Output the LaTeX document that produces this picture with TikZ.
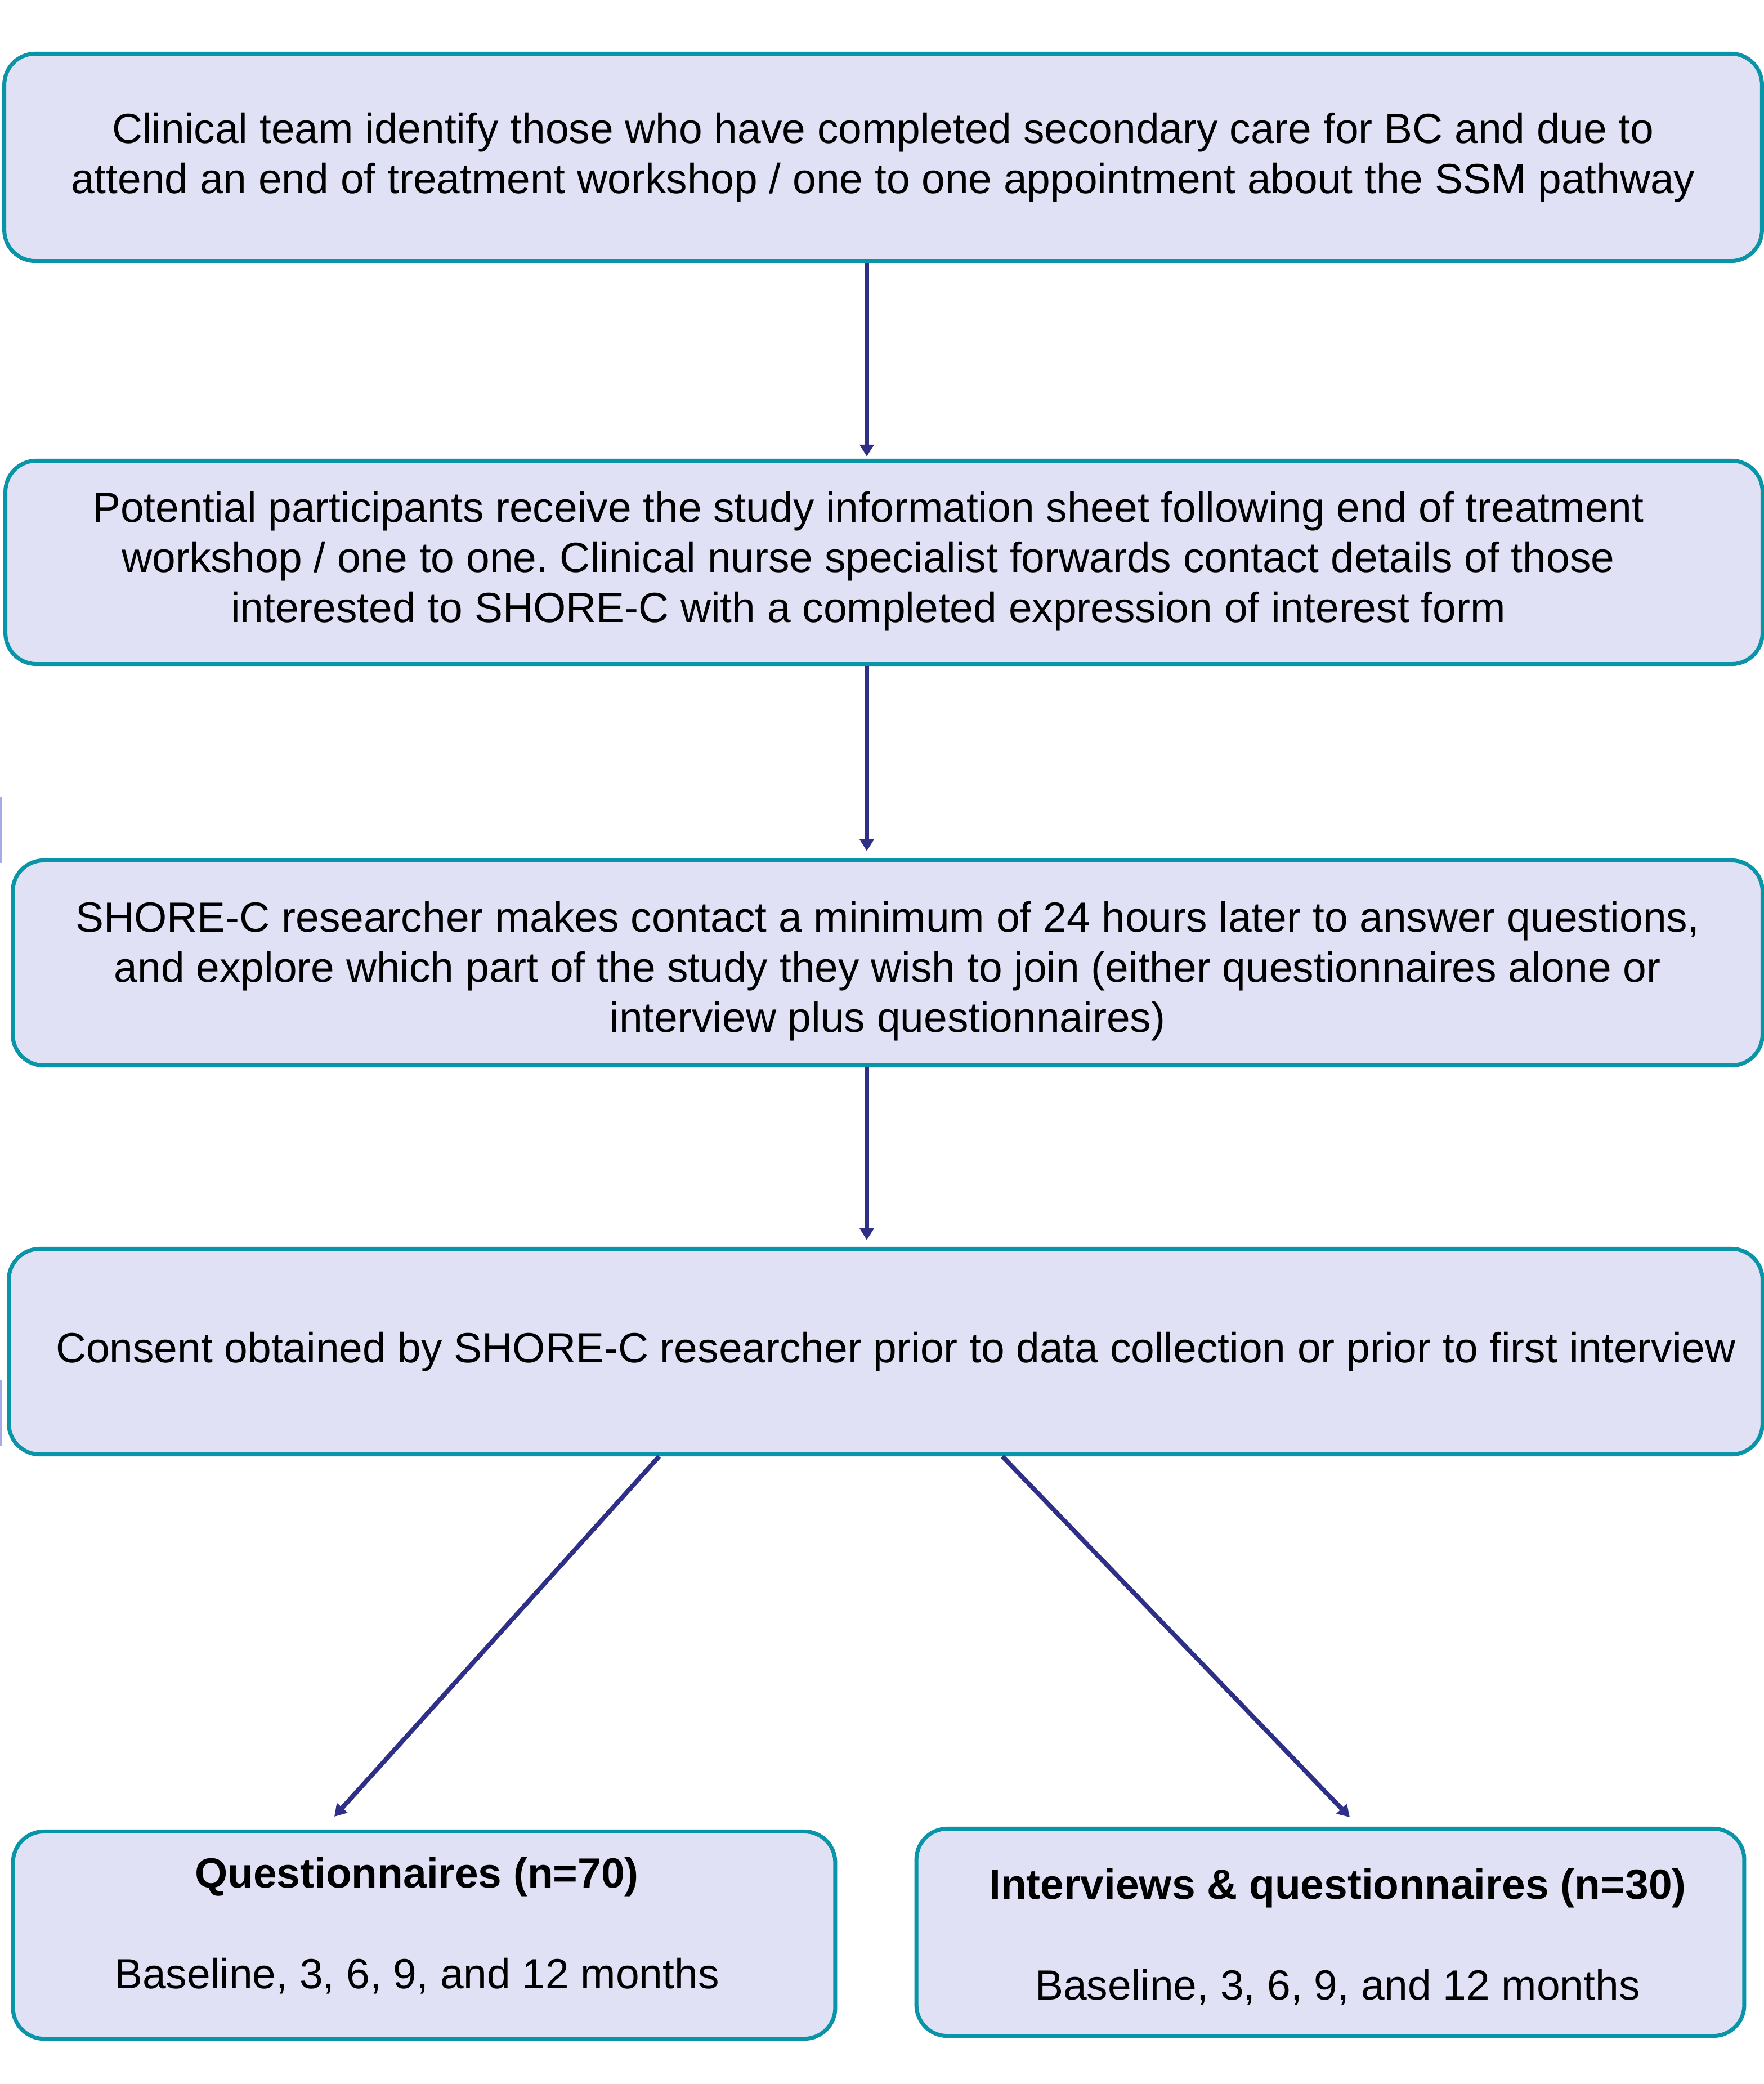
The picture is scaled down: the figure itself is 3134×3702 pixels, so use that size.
\documentclass[tikz,border=0pt]{standalone}
\usepackage{fontspec}
\setmainfont{Liberation Sans}
\frenchspacing
\usetikzlibrary{arrows.meta}
\definecolor{boxfill}{HTML}{E0E1F5}
\definecolor{boxline}{HTML}{0994A7}
\definecolor{arrowc}{HTML}{2E3087}
\definecolor{edgemark}{HTML}{A9A9E6}
\tikzset{
  stage/.style={draw=boxline, fill=boxfill, line width=2pt, rounded corners=0.55cm,
    align=center, inner sep=0pt, font=\fontsize{21.3}{25.3}\selectfont},
  flow/.style={draw=arrowc, line width=2.3pt, -{Triangle[width=7pt,length=6pt]}}
}
\begin{document}
\begin{tikzpicture}[x=0.01cm,y=-0.01cm]
\useasboundingbox (0,0) rectangle (3134,3702);
% faint marks on the left edge
\fill[edgemark] (0,1415) rectangle (3,1533);
\fill[edgemark] (0,2452) rectangle (3,2568);
% steps
\node[stage, minimum width=31.21cm, minimum height=3.68cm] (clinical) at (1569,279.5)
  {Clinical team identify those who have completed secondary care for BC and due to\\
   attend an end of treatment workshop / one to one appointment about the SSM pathway};
\node[stage, minimum width=31.2cm, minimum height=3.61cm] (sheet) at (1570.5,999)
  {\begin{tabular}{@{}c@{}}
   Potential participants receive the study information sheet following end of treatment\\
   workshop / one to one. Clinical nurse specialist forwards contact details of those\\
   interested to SHORE-C with a completed expression of interest form
   \end{tabular}\hspace*{0.56cm}};
\node[stage, minimum width=31.07cm, minimum height=3.64cm] (contact) at (1577,1710.5)
  {\mbox{}\\[-0.06cm]
   SHORE-C researcher makes contact a minimum of 24 hours later to answer questions,\\
   and explore which part of the study they wish to join (either questionnaires alone or\\
   interview plus questionnaires)};
\node[stage, minimum width=31.14cm, minimum height=3.65cm] (consent) at (1573.5,2401)
  {\hspace*{0.36cm}Consent obtained by SHORE-C researcher prior to data collection or prior to first interview};
% the two arms
\node[stage, minimum width=14.6cm, minimum height=3.68cm] (quest) at (753.5,3437.5)
  {\hspace*{-0.26cm}\textbf{Questionnaires (n=70)}\\[0.9cm]
   \hspace*{-0.26cm}Baseline, 3, 6, 9, and 12 months\\[-0.45cm]\mbox{}};
\node[stage, minimum width=14.7cm, minimum height=3.68cm] (interv) at (2363.5,3432.5)
  {\mbox{}\\[-0.18cm]
   \hspace*{0.26cm}\textbf{Interviews \& questionnaires (n=30)}\\[0.9cm]
   \hspace*{0.26cm}Baseline, 3, 6, 9, and 12 months};
% connectors
\coordinate (spine) at (1540,0);
\coordinate (qfoot) at (1171,0);
\coordinate (ifoot) at (1781,0);
\coordinate (qtip) at (594,3227);
\coordinate (itip) at (2398,3228);
\draw[flow, shorten >=0.04cm] (clinical.south -| spine) -- (sheet.north -| spine);
\draw[flow, shorten >=0.13cm] (sheet.south -| spine) -- (contact.north -| spine);
\draw[flow, shorten >=0.12cm] (contact.south -| spine) -- (consent.north -| spine);
\draw[flow] (consent.south -| qfoot) -- (qtip);
\draw[flow] (consent.south -| ifoot) -- (itip);
\end{tikzpicture}
\end{document}
